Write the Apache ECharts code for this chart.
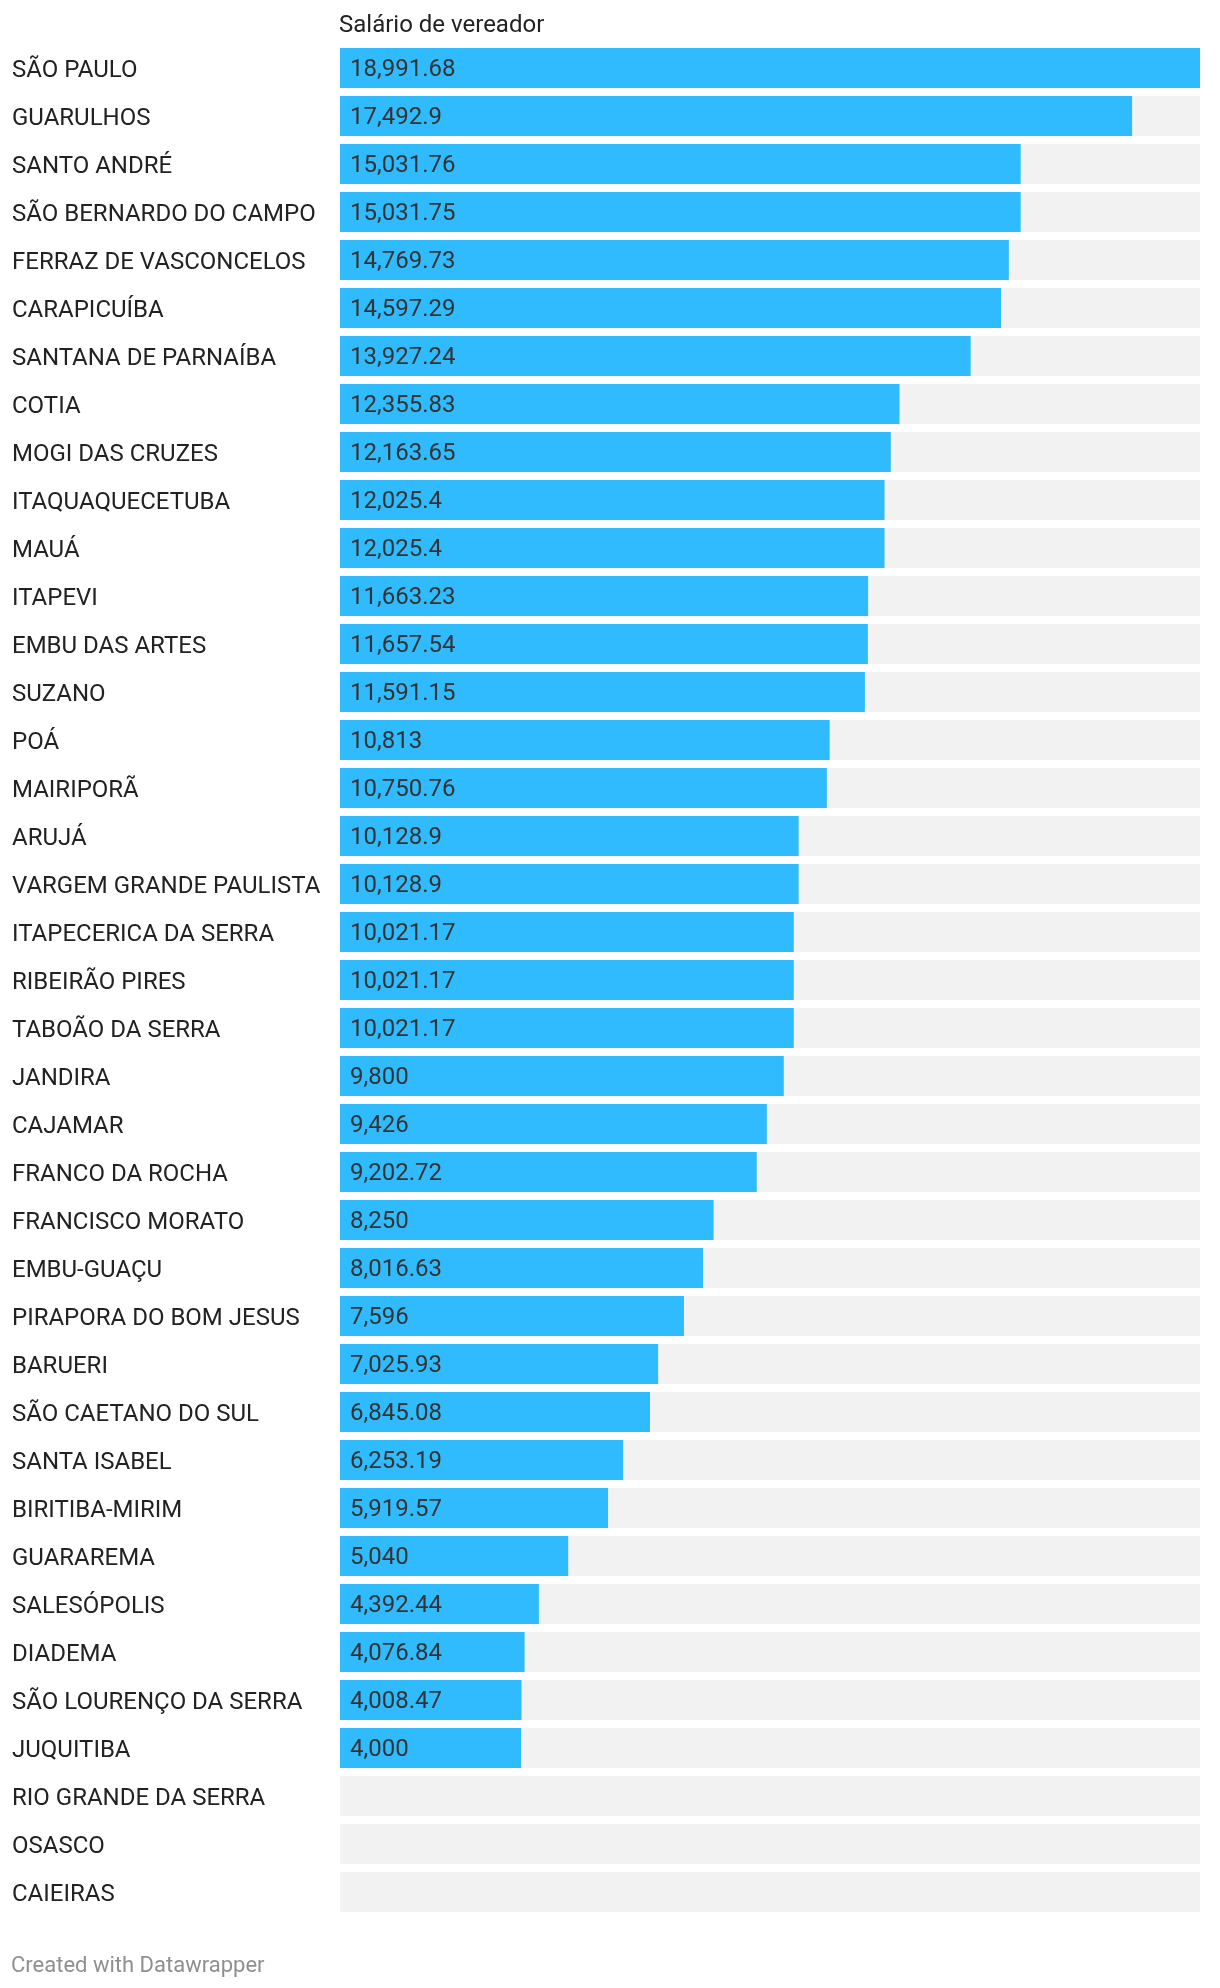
<!DOCTYPE html>
<html>
<head>
<meta charset="utf-8">
<script src="https://cdn.jsdelivr.net/npm/echarts@6/dist/echarts.min.js"></script>
<style>
  html, body { margin: 0; padding: 0; background: #fff; }
  #chart { width: 1220px; height: 1988px; }
</style>
</head>
<body>
<div id="chart"></div>
<script>
const cities = [
  'SÃO PAULO', 'GUARULHOS', 'SANTO ANDRÉ', 'SÃO BERNARDO DO CAMPO', 'FERRAZ DE VASCONCELOS',
  'CARAPICUÍBA', 'SANTANA DE PARNAÍBA', 'COTIA', 'MOGI DAS CRUZES', 'ITAQUAQUECETUBA',
  'MAUÁ', 'ITAPEVI', 'EMBU DAS ARTES', 'SUZANO', 'POÁ',
  'MAIRIPORÃ', 'ARUJÁ', 'VARGEM GRANDE PAULISTA', 'ITAPECERICA DA SERRA', 'RIBEIRÃO PIRES',
  'TABOÃO DA SERRA', 'JANDIRA', 'CAJAMAR', 'FRANCO DA ROCHA', 'FRANCISCO MORATO',
  'EMBU-GUAÇU', 'PIRAPORA DO BOM JESUS', 'BARUERI', 'SÃO CAETANO DO SUL', 'SANTA ISABEL',
  'BIRITIBA-MIRIM', 'GUARAREMA', 'SALESÓPOLIS', 'DIADEMA', 'SÃO LOURENÇO DA SERRA',
  'JUQUITIBA', 'RIO GRANDE DA SERRA', 'OSASCO', 'CAIEIRAS'
]

const salario = [
  18991.68, 17492.9, 15031.76, 15031.75, 14769.73,
  14597.29, 13927.24, 12355.83, 12163.65, 12025.4,
  12025.4, 11663.23, 11657.54, 11591.15, 10813,
  10750.76, 10128.9, 10128.9, 10021.17, 10021.17,
  10021.17, 9800, 9426, 9202.72, 8250,
  8016.63, 7596, 7025.93, 6845.08, 6253.19,
  5919.57, 5040, 4392.44, 4076.84, 4008.47,
  4000, null, null, null
]

const seriesName = 'Salário de vereador'
const fontFamily = 'Roboto, "Noto Sans", sans-serif'

const chart = echarts.init(document.getElementById('chart'))

const option = {
  animation: false,
  textStyle: { fontFamily },
  grid: {
    left: 340,
    right: 20,
    top: 44,
    bottom: 72,
    containLabel: false
  },
  graphic: [
    {
      type: 'text',
      left: 339,
      top: 14,
      style: { text: seriesName, fontSize: 24, fill: '#222', fontFamily }
    },
    {
      type: 'text',
      left: 11,
      top: 1955,
      style: { text: 'Created with Datawrapper', fontSize: 22, fill: '#8f8f8f', fontFamily }
    }
  ],
  xAxis: {
    type: 'value',
    min: 0,
    max: 18991.68,
    show: false
  },
  yAxis: {
    type: 'category',
    inverse: true,
    data: cities,
    axisLine: { show: false },
    axisTick: { show: false },
    splitLine: { show: false },
    axisLabel: {
      align: 'left',
      margin: 328,
      color: '#222',
      fontSize: 24,
      fontFamily,
      // nudge the text a little lower so the caps sit centred on the bar
      verticalAlign: 'top',
      lineHeight: 5
    }
  },
  series: [
    {
      name: seriesName,
      type: 'bar',
      data: salario,
      barWidth: 40,
      showBackground: true,
      backgroundStyle: { color: '#f2f2f2' },
      itemStyle: { color: '#31bbff' },
      label: {
        show: true,
        position: 'insideLeft',
        distance: 10,
        color: '#333',
        fontSize: 24,
        fontFamily,
        verticalAlign: 'top',
        lineHeight: 4,
        formatter: function (p) {
          if (p.value == null) return ''
          return p.value.toLocaleString('en-US', { maximumFractionDigits: 2 })
        }
      }
    }
  ]
}

chart.setOption(option)
</script>
</body>
</html>
